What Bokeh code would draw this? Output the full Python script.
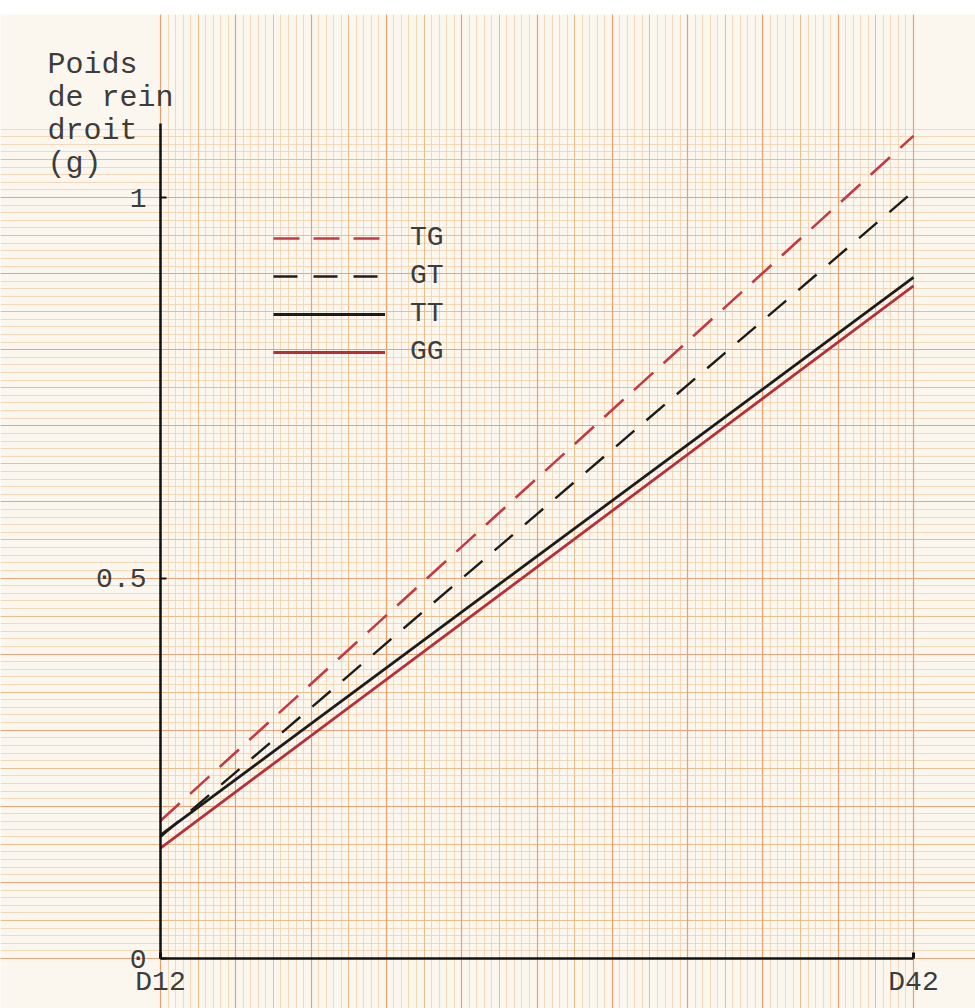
from bokeh.plotting import figure
from bokeh.models import (Range1d, LinearAxis, FixedTicker, SingleIntervalTicker, Grid,
                          Legend, LegendItem, Label)
from bokeh.embed import file_html
from bokeh.resources import INLINE

# ---- data ----
days = [12, 42]
x_tick_values = [12, 42]
x_tick_labels = ["D12", "D42"]
y_tick_values = [0, 0.5, 1]
y_tick_labels = ["0", "0.5", "1"]
series_names = ["TG", "GT", "TT", "GG"]
tg = [0.181, 1.081]
gt = [0.160, 1.008]
tt = [0.162, 0.895]
gg = [0.145, 0.884]
y_title = "Poids\nde rein\ndroit\n(g)"

FONT = "Liberation Mono"
TXT = "#3c3c3c"

p = figure(width=975, height=1008, output_backend="svg", toolbar_location=None,
           x_axis_type=None, y_axis_type=None,
           x_range=Range1d(5.625, 44.47), y_range=Range1d(-0.0657, 1.2405),
           min_border_left=0, min_border_right=0, min_border_top=14, min_border_bottom=0,
           background_fill_color="#fcf7ee", border_fill_color="white", outline_line_color=None)
p.grid.visible = False

# graph paper
for dim, iv, col, w, a in [
    (0, 0.3, "#f0cfa8", 1, 0.75), (1, 0.01, "#f0cfa8", 1, 0.75),
    (0, 1.5, "#ebb680", 1, 0.8), (1, 0.05, "#ebb680", 1, 0.8),
    (0, 3.0, "#e79a68", 1.2, 0.85), (1, 0.1, "#e9a07a", 1.2, 0.85),
]:
    g = Grid(dimension=dim, ticker=SingleIntervalTicker(interval=iv, num_minor_ticks=0),
             grid_line_color=col, grid_line_width=w, grid_line_alpha=a, level="underlay")
    p.add_layout(g, "center")

# axes drawn at fixed locations inside the paper
yax = LinearAxis(fixed_location=days[0], ticker=FixedTicker(ticks=y_tick_values),
                 major_label_overrides={v: l for v, l in zip(y_tick_values, y_tick_labels)},
                 bounds=(0, 1.097), axis_line_color="#111111", axis_line_width=2.5,
                 major_tick_in=6, major_tick_out=0, major_tick_line_color="#111111",
                 major_tick_line_width=2, minor_tick_line_color=None,
                 major_label_text_font=FONT, major_label_text_font_size="28px",
                 major_label_text_color=TXT, major_label_standoff=14)
p.add_layout(yax, "left")
xax = LinearAxis(fixed_location=0, ticker=FixedTicker(ticks=x_tick_values),
                 major_label_overrides={v: l for v, l in zip(x_tick_values, x_tick_labels)},
                 bounds=(days[0], days[1]), axis_line_color="#111111", axis_line_width=2.5,
                 major_tick_in=6, major_tick_out=0, major_tick_line_color="#111111",
                 major_tick_line_width=3, minor_tick_line_color=None,
                 major_label_text_font=FONT, major_label_text_font_size="28px",
                 major_label_text_color=TXT, major_label_standoff=8)
p.add_layout(xax, "below")

r_tg = p.line(days, tg, line_color="#c23a45", line_width=2.6, line_dash="26 14")
r_gt = p.line(days, gt, line_color="#1c1c1c", line_width=2.4, line_dash="24 16")
r_tt = p.line(days, tt, line_color="#1c1c1c", line_width=2.8)
r_gg = p.line(days, gg, line_color="#b5303b", line_width=2.8)

legend = Legend(items=[LegendItem(label=n, renderers=[r]) for n, r in
                       zip(series_names, [r_tg, r_gt, r_tt, r_gg])],
                location=(273, 641), orientation="vertical",
                background_fill_alpha=0, border_line_color=None, padding=0, margin=0,
                glyph_width=112, glyph_height=20, label_standoff=25, spacing=7,
                label_text_font=FONT, label_text_font_size="28px", label_text_color=TXT)
p.add_layout(legend, "center")

p.add_layout(Label(x=7.5, y=1.196, text=y_title, text_font=FONT, text_font_size="30px",
                   text_color=TXT, text_baseline="top", text_align="left",
                   text_line_height=0.97))

open("out.html", "w").write(file_html(p, INLINE))
